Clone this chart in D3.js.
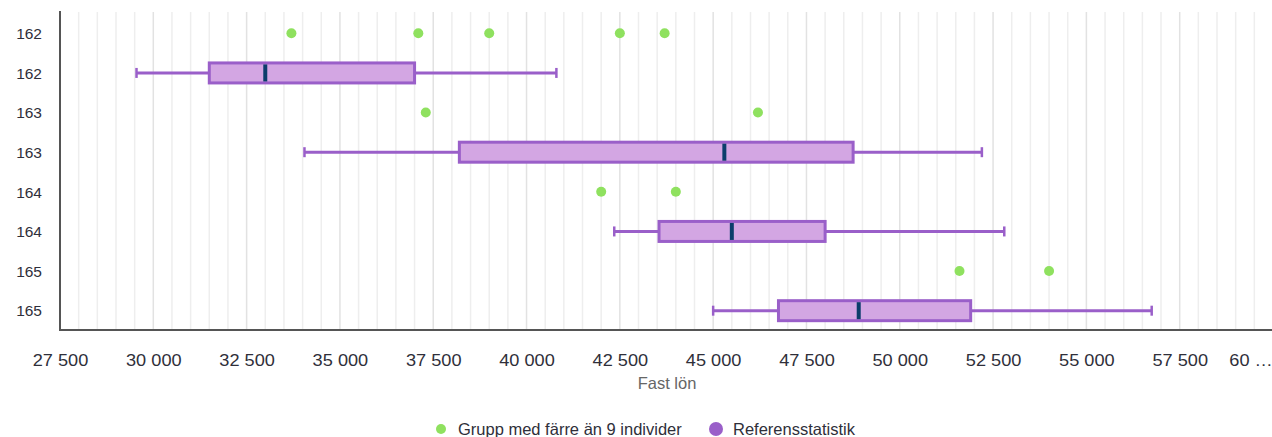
<!DOCTYPE html>
<html>
<head>
<meta charset="utf-8">
<script src="https://cdn.jsdelivr.net/npm/d3@7"></script>
<style>
  html, body { margin: 0; padding: 0; background: #fff; }
  svg { display: block; font-family: "Liberation Sans", Arial, sans-serif; }
</style>
</head>
<body>
<svg id="chart" width="1272" height="437"></svg>
<script>
// ---- data ----
const rowLabels = ["162", "162", "163", "163", "164", "164", "165", "165"];
const rowKinds  = ["small", "ref", "small", "ref", "small", "ref", "small", "ref"];
// groups with fewer than 9 individuals (one array per "small" row)
const smallGroups = [
  [33700, 37100, 39000, 42500, 43700],
  [37300, 46200],
  [42000, 44000],
  [51600, 54000]
];
// reference statistics: [min, q1, median, q3, max]
const whiskerLow  = [29550, 34050, 42350, 45000];
const quartile1   = [31500, 38200, 43550, 46750];
const medians     = [33000, 45300, 45500, 48900];
const quartile3   = [37000, 48750, 48000, 51900];
const whiskerHigh = [40800, 52200, 52800, 56750];
const xTicks = [27500, 30000, 32500, 35000, 37500, 40000, 42500, 45000, 47500, 50000, 52500, 55000, 57500, 60000];
const xTitle = "Fast lön";
const legendLabels = ["Grupp med färre än 9 individer", "Referensstatistik"];

// ---- style ----
const C = {
  green: "#8fe15f",
  boxFill: "#d3a6e3",
  boxStroke: "#9a5fc9",
  median: "#0b3d6b",
  axis: "#555",
  grid: "#eeeeee",
  gridMajor: "#e2e2e2",
  text: "#2f2f3a",
  title: "#666"
};

const svg = d3.select("#chart");
const pLeft = 60, pRight = 1273, pTop = 13, pBottom = 330;

const x = d3.scaleLinear().domain([27500, 60000]).range([pLeft, pRight]);
const y = d3.scaleBand().domain(d3.range(rowLabels.length)).range([pTop, pBottom]);

// grid lines every 500
const minor = d3.range(28000, 60000, 500);
svg.append("g").selectAll("line").data(minor).join("line")
  .attr("x1", d => x(d)).attr("x2", d => x(d))
  .attr("y1", pTop - 1).attr("y2", pBottom)
  .attr("stroke", d => d % 2500 === 0 ? C.gridMajor : C.grid)
  .attr("stroke-width", 1.5);

// rows
const rowsSmall = [], rowsRef = [];
rowKinds.forEach((k, i) => (k === "small" ? rowsSmall : rowsRef).push(i));

// points
const pts = [];
rowsSmall.forEach((r, gi) => smallGroups[gi].forEach(v => pts.push({ r, v })));
svg.append("g").selectAll("circle").data(pts).join("circle")
  .attr("cx", d => x(d.v))
  .attr("cy", d => y(d.r) + y.bandwidth() / 2 + 0.5)
  .attr("r", 5)
  .attr("fill", C.green);

// boxes
const boxes = rowsRef.map((r, i) => ({
  r, lo: whiskerLow[i], q1: quartile1[i], md: medians[i], q3: quartile3[i], hi: whiskerHigh[i]
}));
const bg = svg.append("g").selectAll("g").data(boxes).join("g")
  .attr("transform", d => `translate(0,${y(d.r) + y.bandwidth() / 2 + 0.5})`);
const boxH = 20, capH = 10;
bg.append("line").attr("x1", d => x(d.lo)).attr("x2", d => x(d.q1))
  .attr("stroke", C.boxStroke).attr("stroke-width", 3);
bg.append("line").attr("x1", d => x(d.q3)).attr("x2", d => x(d.hi))
  .attr("stroke", C.boxStroke).attr("stroke-width", 3);
bg.append("line").attr("x1", d => x(d.lo)).attr("x2", d => x(d.lo))
  .attr("y1", -capH / 2).attr("y2", capH / 2)
  .attr("stroke", C.boxStroke).attr("stroke-width", 2.5);
bg.append("line").attr("x1", d => x(d.hi)).attr("x2", d => x(d.hi))
  .attr("y1", -capH / 2).attr("y2", capH / 2)
  .attr("stroke", C.boxStroke).attr("stroke-width", 2.5);
bg.append("rect")
  .attr("x", d => x(d.q1)).attr("width", d => x(d.q3) - x(d.q1))
  .attr("y", -boxH / 2).attr("height", boxH)
  .attr("fill", C.boxFill).attr("stroke", C.boxStroke).attr("stroke-width", 3);
bg.append("line").attr("x1", d => x(d.md)).attr("x2", d => x(d.md))
  .attr("y1", -boxH / 2 + 1.5).attr("y2", boxH / 2 - 1.5)
  .attr("stroke", C.median).attr("stroke-width", 4);

// axes
const fmt = d => d3.format(",")(d).replace(/,/g, " ");
const xAxis = svg.append("g").attr("transform", `translate(0,${pBottom})`)
  .call(d3.axisBottom(x).tickValues(xTicks).tickSize(0).tickPadding(24)
    .tickFormat(d => d === 60000 ? "60 …" : fmt(d)));
xAxis.select(".domain").remove();
xAxis.selectAll("text").attr("fill", C.text).style("font-size", "17px")
  .attr("transform", "scale(1.07,1)")
  .attr("dx", d => d === 60000 ? "-21px" : 0);

const yAxis = svg.append("g").attr("transform", `translate(${pLeft},0)`)
  .call(d3.axisLeft(y).tickSize(0).tickPadding(18).tickFormat(i => rowLabels[i]));
yAxis.select(".domain").remove();
yAxis.selectAll("text").attr("fill", C.text).style("font-size", "15.5px").attr("dy", "0.4em");

// axis lines
svg.append("line").attr("x1", pLeft).attr("x2", pLeft).attr("y1", pTop - 2).attr("y2", pBottom + 1)
  .attr("stroke", C.axis).attr("stroke-width", 2);
svg.append("line").attr("x1", pLeft - 1).attr("x2", pRight).attr("y1", pBottom).attr("y2", pBottom)
  .attr("stroke", C.axis).attr("stroke-width", 2);

// axis title
svg.append("text").attr("x", 667).attr("y", 389).attr("text-anchor", "middle")
  .attr("fill", C.title).style("font-size", "16.5px").text(xTitle);

// legend
const lg = svg.append("g");
const items = [
  { label: legendLabels[0], color: C.green, r: 5, cx: 441, tx: 458 },
  { label: legendLabels[1], color: C.boxStroke, r: 7, cx: 716, tx: 733 }
];
const li = lg.selectAll("g").data(items).join("g");
li.append("circle").attr("cx", d => d.cx).attr("cy", 429).attr("r", d => d.r).attr("fill", d => d.color);
li.append("text").attr("x", d => d.tx).attr("y", 435).attr("fill", C.text)
  .style("font-size", "16.5px").text(d => d.label);
</script>
</body>
</html>
